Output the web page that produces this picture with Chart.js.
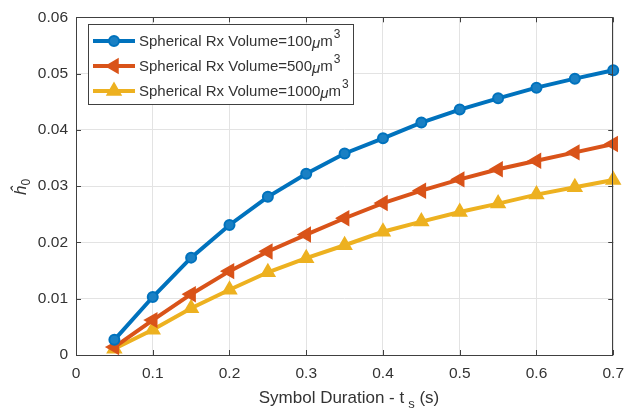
<!DOCTYPE html>
<html><head><meta charset="utf-8">
<script src="https://cdn.jsdelivr.net/npm/chart.js@4/dist/chart.umd.min.js"></script>
<style>html,body{margin:0;padding:0;background:#fff;overflow:hidden;}</style>
</head><body>
<canvas id="c" width="633" height="419" style="width:633px;height:419px;display:block"></canvas>
<script>
const xValues = [0.05,0.1,0.15,0.2,0.25,0.3,0.35,0.4,0.45,0.5,0.55,0.6,0.65,0.7];
const vol100  = [0.0027,0.0103,0.0173,0.0231,0.0281,0.0322,0.0358,0.0385,0.0413,0.0436,0.0456,0.0475,0.0491,0.0506];
const vol500  = [0.0014,0.0062,0.0108,0.0149,0.0184,0.0214,0.0243,0.0270,0.0292,0.0312,0.0330,0.0345,0.0360,0.0375];
const vol1000 = [0.0011,0.0045,0.0083,0.0116,0.0147,0.0172,0.0195,0.0219,0.0237,0.0254,0.0269,0.0285,0.0298,0.0311];
const xTicks = [0,0.1,0.2,0.3,0.4,0.5,0.6,0.7];
const yTicks = [0,0.01,0.02,0.03,0.04,0.05,0.06];
const volumeLabels = ['100','500','1000'];
const xTitle = ['Symbol Duration - t', 's', ' (s)'];
const yTitle = ['\u0125', '0'];

const FONT = "'Liberation Sans', Arial, Helvetica, sans-serif";
const TXT = '#333333';
const colors = ['#0072BD','#D95319','#EDB120'];
const styles = [
  {pointStyle:'circle', radius:5, rotation:0, bg:'#1a80c4'},
  {pointStyle:'triangle', radius:7.5, rotation:-90, bg:'#D95319'},
  {pointStyle:'triangle', radius:7.5, rotation:0, bg:'#EDB120'}
];
const seriesValues = [vol100, vol500, vol1000];

function mk(vals){ return xValues.map((x,i)=>({x:x, y:vals[i]})); }

function drawMarker(ctx, st, color, x, y){
  ctx.save();
  ctx.translate(x,y);
  ctx.rotate(st.rotation*Math.PI/180);
  ctx.beginPath();
  if(st.pointStyle==='circle'){
    ctx.arc(0,0,st.radius,0,Math.PI*2);
  } else {
    const r = st.radius;
    for(let k=0;k<3;k++){
      const a = k*2*Math.PI/3;
      const px = Math.sin(a)*r, py = -Math.cos(a)*r;
      if(k===0) ctx.moveTo(px,py); else ctx.lineTo(px,py);
    }
    ctx.closePath();
  }
  ctx.fillStyle = st.bg; ctx.fill();
  ctx.lineWidth = 2; ctx.strokeStyle = color; ctx.stroke();
  ctx.restore();
}

const decor = {
  id:'decor',
  afterDraw(chart){
    const ctx = chart.ctx, a = chart.chartArea;
    const xs = chart.scales.x, ys = chart.scales.y;
    ctx.save();
    // frame
    ctx.strokeStyle = '#404040'; ctx.lineWidth = 1;
    ctx.strokeRect(Math.round(a.left)+0.5, Math.round(a.top)+0.5, Math.round(a.right-a.left)-1, Math.round(a.bottom-a.top));
    // inner ticks
    ctx.beginPath();
    xTicks.forEach(v=>{
      const px = Math.round(xs.getPixelForValue(v))+0.5;
      ctx.moveTo(px, a.bottom); ctx.lineTo(px, a.bottom-5);
      ctx.moveTo(px, a.top); ctx.lineTo(px, a.top+5);
    });
    yTicks.forEach(v=>{
      const py = Math.round(ys.getPixelForValue(v))+0.5;
      ctx.moveTo(a.left, py); ctx.lineTo(a.left+5, py);
      ctx.moveTo(a.right, py); ctx.lineTo(a.right-5, py);
    });
    ctx.stroke();

    // x title with subscript
    ctx.fillStyle = TXT;
    ctx.textBaseline = 'alphabetic';
    const f1 = '17px '+FONT, f2 = '13px '+FONT;
    ctx.font = f1; const w1 = ctx.measureText(xTitle[0]).width; const w3 = ctx.measureText(xTitle[2]).width;
    ctx.font = f2; const w2 = ctx.measureText(xTitle[1]).width + 4;
    let sx = 349 - (w1+w2+w3)/2, by = 403;
    ctx.textAlign = 'left';
    ctx.font = f1; ctx.fillText(xTitle[0], sx, by);
    ctx.font = f2; ctx.fillText(xTitle[1], sx+w1+4, by+5);
    ctx.font = f1; ctx.fillText(xTitle[2], sx+w1+w2, by);

    // y title rotated
    ctx.save();
    ctx.translate(26, 187);
    ctx.rotate(-Math.PI/2);
    ctx.font = 'italic 17px '+FONT;
    const hw = ctx.measureText(yTitle[0]).width;
    ctx.font = '12px '+FONT;
    const zw = ctx.measureText(yTitle[1]).width;
    const tx = -(hw+zw)/2;
    ctx.font = 'italic 17px '+FONT; ctx.fillText(yTitle[0], tx, 0);
    ctx.font = '12px '+FONT; ctx.fillText(yTitle[1], tx+hw, 4);
    ctx.restore();

    // legend
    const lx = 88, ly = 24, lw = 265, lh = 80;
    ctx.fillStyle = '#fff'; ctx.fillRect(lx+0.5, ly+0.5, lw, lh);
    ctx.strokeStyle = '#404040'; ctx.lineWidth = 1;
    ctx.strokeRect(lx+0.5, ly+0.5, lw, lh);
    const rows = [41, 66, 91];
    volumeLabels.forEach((lab,i)=>{
      const y = rows[i];
      ctx.strokeStyle = colors[i]; ctx.lineWidth = 4; ctx.lineCap='butt';
      ctx.beginPath(); ctx.moveTo(93,y); ctx.lineTo(135,y); ctx.stroke();
      drawMarker(ctx, styles[i], colors[i], 114, y);
      ctx.fillStyle = TXT; ctx.textBaseline='middle'; ctx.textAlign='left';
      const fA = '15px '+FONT;
      ctx.font = fA;
      const t = 'Spherical Rx Volume=' + lab;
      let px = 139;
      ctx.fillText(t, px, y+1); px += ctx.measureText(t).width;
      ctx.font = 'italic 15px '+FONT; ctx.fillText('\u03bc', px, y+3); px += ctx.measureText('\u03bc').width;
      ctx.font = fA; ctx.fillText('m', px, y+1); px += ctx.measureText('m').width + 1;
      ctx.font = '12px '+FONT; ctx.fillText('3', px, y-6);
    });
    ctx.restore();
  }
};

new Chart(document.getElementById('c'), {
  type:'scatter',
  data:{
    datasets: seriesValues.map((vals,i)=>({
      label: 'Spherical Rx Volume='+volumeLabels[i]+'\u03bcm3',
      data: mk(vals),
      showLine:true,
      borderColor: colors[i],
      borderWidth: 4,
      pointStyle: styles[i].pointStyle,
      pointRadius: styles[i].radius,
      pointRotation: styles[i].rotation,
      pointBackgroundColor: styles[i].bg,
      pointBorderColor: colors[i],
      pointBorderWidth: 2,
      clip: false,
      tension: 0
    }))
  },
  options:{
    responsive:false, animation:false, devicePixelRatio:1,
    layout:{padding:{top:13,right:10,left:0,bottom:0}},
    plugins:{legend:{display:false}, tooltip:{enabled:false}},
    scales:{
      x:{
        type:'linear', min:0, max:0.7,
        afterBuildTicks(s){ s.ticks = xTicks.map(v=>({value:v})); },
        afterFit(s){ s.height = 64; },
        grid:{color:'#e3e3e3', drawTicks:false, lineWidth:1},
        border:{display:false},
        ticks:{padding:9, color:TXT, font:{family:FONT, size:15.5}, callback:(v)=>String(v), maxRotation:0, autoSkip:false}
      },
      y:{
        type:'linear', min:0, max:0.06,
        afterBuildTicks(s){ s.ticks = yTicks.map(v=>({value:v})); },
        afterFit(s){ s.width = 76; },
        grid:{color:'#e3e3e3', drawTicks:false, lineWidth:1},
        border:{display:false},
        ticks:{padding:8, color:TXT, font:{family:FONT, size:15.5}, callback:(v)=>String(v), autoSkip:false}
      }
    }
  },
  plugins:[decor]
});
</script>
</body></html>
